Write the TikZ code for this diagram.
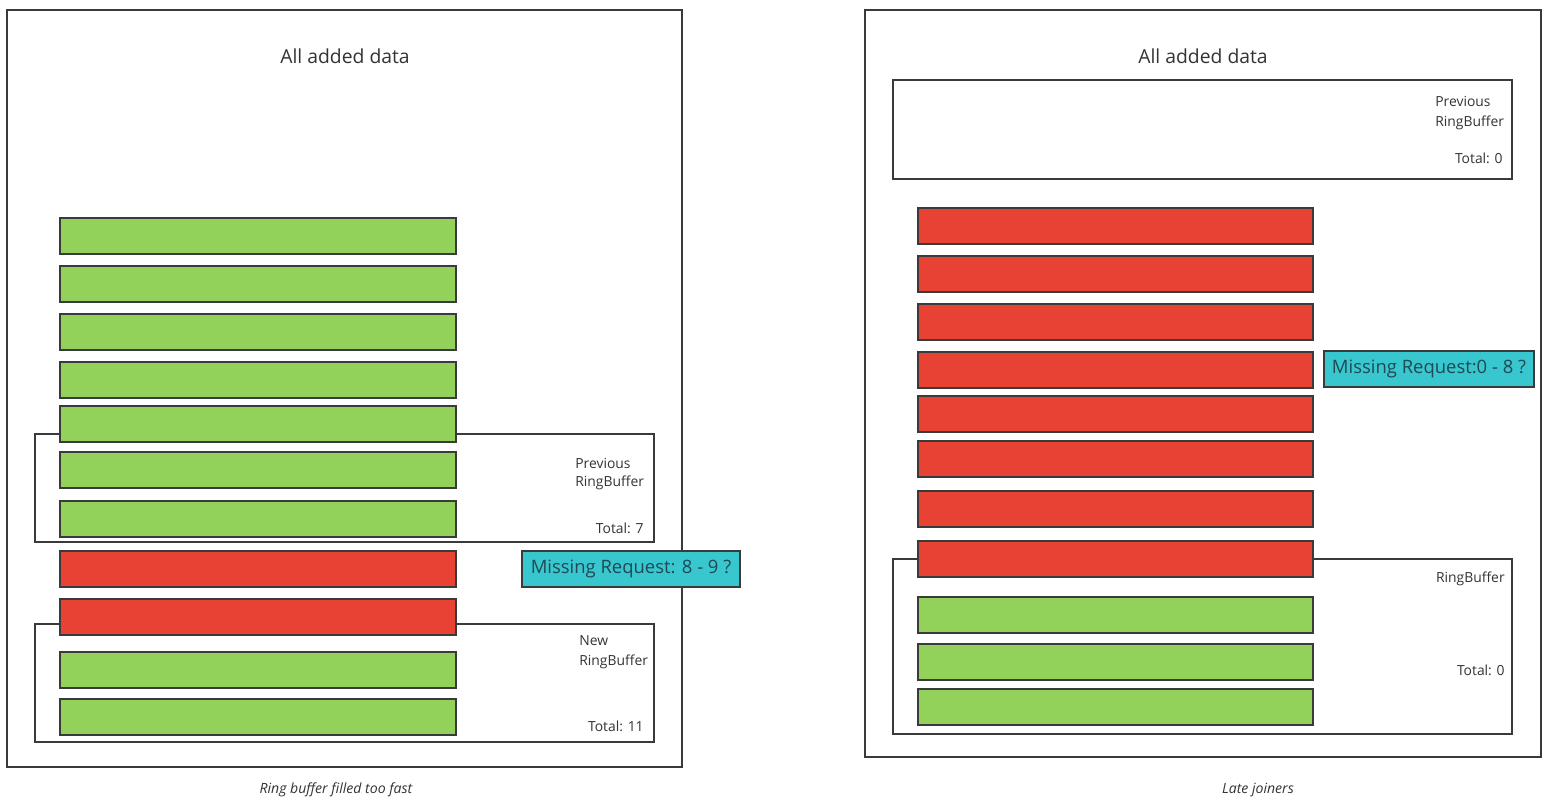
\documentclass[tikz,border=0pt]{standalone}
\usepackage{fontspec}
\setmainfont{Open Sans}

\definecolor{framegray}{HTML}{3A3A3A}
\definecolor{textgray}{HTML}{333333}
\definecolor{bargreen}{HTML}{92D15A}
\definecolor{barred}{HTML}{E84235}
\definecolor{reqcyan}{HTML}{38C6CF}
\definecolor{reqtext}{HTML}{1F4A54}

\tikzset{
  frame/.style={draw=framegray, line width=1.1pt},
  bar/.style={draw=framegray, line width=1.1pt},
  smalltxt/.style={font=\fontsize{7.9}{9}\selectfont, text=textgray, inner sep=0pt},
  titletxt/.style={font=\fontsize{11}{13}\selectfont, text=textgray, inner sep=0pt},
  captiontxt/.style={font=\fontsize{8}{10}\selectfont\itshape, text=textgray, inner sep=0pt},
  request/.style={draw=framegray, line width=1.1pt, fill=reqcyan, text=reqtext,
    font=\fontsize{10.5}{13}\selectfont, inner sep=0pt, minimum height=0.72cm}
}

\begin{document}
\begin{tikzpicture}[x=0.02cm, y=-0.02cm]
        \useasboundingbox (0,0) rectangle (1548,805);

        % --- Gauche : ring buffer rempli trop vite ---
        \draw[frame] (7,10) rectangle (682,767);
        \node[titletxt, anchor=base] (titleL) at (345,63) {All added data};

        % Anciens et nouveaux ring buffers
        \draw[frame] (35,434) rectangle (654,542);
        \draw[frame] (35,624) rectangle (654,742);

        % Blocs de données
        \foreach \top/\col in {218/bargreen, 266/bargreen, 314/bargreen, 362/bargreen,
                               406/bargreen, 452/bargreen, 501/bargreen,
                               551/barred, 599/barred, 652/bargreen, 699/bargreen}
            \filldraw[bar, fill=\col] (60,\top) rectangle (456,\top+36);

        \node[smalltxt, anchor=base west] (prevL) at (575,468) {Previous};
        \node[smalltxt, anchor=base west] (prevRbL) at (575,486) {RingBuffer};
        \node[smalltxt, anchor=base east] (totalPrevL) at (644,533) {Total: 7};
        \node[smalltxt, anchor=base west] (newL) at (579,645) {New};
        \node[smalltxt, anchor=base west] (newRbL) at (579,665) {RingBuffer};
        \node[smalltxt, anchor=base east] (totalNewL) at (644,731) {Total: 11};

        \node[request, minimum width=4.36cm] (reqL) at (631,569) {Missing Request: 8 - 9 ?};

        \node[captiontxt, anchor=base] (capL) at (336,793) {Ring buffer filled too fast};

        % --- Droite : abonnés tardifs ---
        \draw[frame] (865,10) rectangle (1541,757);
        \node[titletxt, anchor=base] (titleR) at (1203,63) {All added data};

        \draw[frame] (893,80) rectangle (1512,179);
        \draw[frame] (893,559) rectangle (1512,734);

        \foreach \top/\col in {208/barred, 256/barred, 304/barred, 352/barred,
                               396/barred, 441/barred, 491/barred, 541/barred,
                               597/bargreen, 644/bargreen, 689/bargreen}
            \filldraw[bar, fill=\col] (918,\top) rectangle (1313,\top+36);

        \node[smalltxt, anchor=base west] (prevR) at (1435,106) {Previous};
        \node[smalltxt, anchor=base west] (prevRbR) at (1435,126) {RingBuffer};
        \node[smalltxt, anchor=base east] (totalPrevR) at (1503,163) {Total: 0};
        \node[smalltxt, anchor=base east] (rbR) at (1505,582) {RingBuffer};
        \node[smalltxt, anchor=base east] (totalR) at (1505,675) {Total: 0};

        \node[request, minimum width=4.2cm] (reqR) at (1429,369) {Missing Request:0 - 8 ?};

        \node[captiontxt, anchor=base] (capR) at (1258,793) {Late joiners};
    \end{tikzpicture}
\end{document}
